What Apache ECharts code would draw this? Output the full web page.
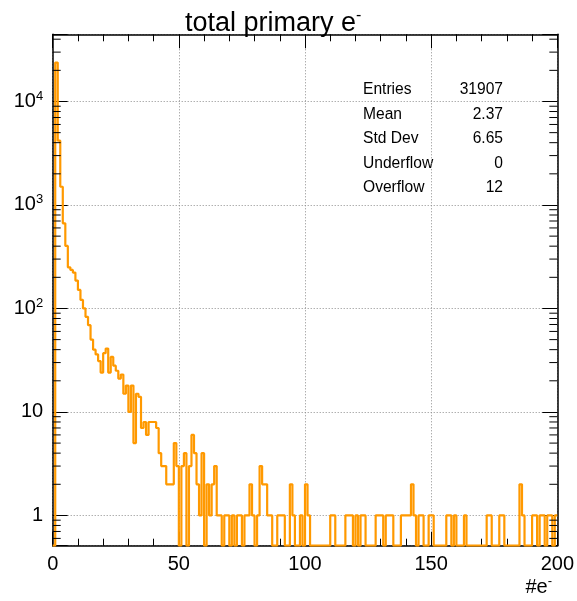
<!DOCTYPE html>
<html><head><meta charset="utf-8">
<script src="https://cdn.jsdelivr.net/npm/echarts@6/dist/echarts.min.js"></script>
<style>html,body{margin:0;padding:0;background:#fff}#c{width:577px;height:601px}</style>
</head><body><div id="c"></div>
<script>
// histogram: 200 bins of width 1 from 0 to 200
const binLow = 0, binWidth = 1;
const counts = [
  0,23800,4180,1500,665,402,250,236,222,186,151,121,100,83,69,50,40,36,31,24,
  37,41,24,34,28,25,21,23,15,18,10,18,5,15,14,7,8,6,8,8,
  8,7,4,3,3,2,2,2,5,3,0,3,4,0,3,6,4,2,1,4,
  0,2,1,2,3,1,1,0,1,1,0,1,0,1,1,0,1,1,2,1,
  0,1,3,2,2,1,1,0,0,1,1,1,0,0,2,1,0,0,1,0,
  2,1,0,0,0,0,0,0,0,0,1,1,0,0,0,0,1,1,1,0,
  1,0,1,1,0,0,0,0,1,1,1,0,1,1,1,0,0,0,1,1,
  1,1,2,1,0,1,1,0,0,1,1,0,0,0,0,0,1,1,0,1,
  0,0,0,1,0,0,0,0,0,0,0,0,1,1,0,0,0,1,1,0,
  0,0,0,0,0,2,1,0,0,0,1,1,0,1,1,0,1,1,0,1
];
const xTickValues = [0, 50, 100, 150, 200];
const yDecadeExponents = [0, 1, 2, 3, 4];
const yDecadeLabels = ['1', '10', '10|2', '10|3', '10|4'];
const statsNames = ['Entries', 'Mean', 'Std Dev', 'Underflow', 'Overflow'];
const statsValues = ['31907', '2.37', '6.65', '0', '12'];
const titleMain = 'total primary e', titleSup = '-';
const xTitleMain = '#e', xTitleSup = '-';
const yMin = 0.51, yMax = 44600;

const FONT = '"Liberation Sans", Arial, Helvetica, sans-serif';
const ORANGE = '#ff9900';

// step outline points (bin low edges + final edge); empty bins drop to frame bottom
const pts = counts.map((c, i) => [binLow + i * binWidth, c > 0 ? c : yMin]);
pts.push([binLow + counts.length * binWidth, counts[counts.length - 1] > 0 ? counts[counts.length - 1] : yMin]);

// log minor ticks (2..9 per decade) inside range
const minorY = [];
for (let e = -1; e <= 4; e++) for (let m = 2; m <= 9; m++) {
  const v = m * Math.pow(10, e);
  if (v > yMin && v < yMax) minorY.push(v);
}

function yLabel(v) {
  const lg = Math.log10(v), e = Math.round(lg);
  if (Math.abs(lg - e) > 1e-6) return '';
  const idx = yDecadeExponents.indexOf(e);
  if (idx < 0) return '';
  const parts = yDecadeLabels[idx].split('|');
  return parts.length > 1 ? '{b|' + parts[0] + '}{s|' + parts[1] + '}' : '{b|' + parts[0] + '}';
}

const chart = echarts.init(document.getElementById('c'), null, {renderer: 'canvas'});
const gridLine = {show: true, lineStyle: {color: '#8c8c8c', width: 1, type: [1, 2]}};
chart.setOption({
  animation: false,
  backgroundColor: '#fff',
  title: {
    text: '{m|' + titleMain + '}{s|' + titleSup + '}',
    left: 180, top: 3,
    textStyle: {fontWeight: 'normal', rich: {
      m: {fontFamily: FONT, fontSize: 27, fontWeight: 'normal', color: '#000', lineHeight: 31},
      s: {fontFamily: FONT, fontSize: 16, fontWeight: 'normal', color: '#000', verticalAlign: 'top', lineHeight: 16}
    }}
  },
  grid: {left: 52.7, right: 19.5, top: 34.3, bottom: 55.3, containLabel: false},
  xAxis: [{
    type: 'value', position: 'bottom', min: 0, max: 200, interval: 50,
    axisLine: {show: true, onZero: false, lineStyle: {color: '#000', width: 1.5}},
    axisTick: {show: true, inside: true, length: 14, lineStyle: {color: '#000'}},
    minorTick: {show: true, splitNumber: 5, length: 7, lineStyle: {color: '#000'}},
    axisLabel: {show: true, margin: 9, fontFamily: FONT, fontSize: 20, color: '#000',
      customValues: xTickValues},
    splitLine: gridLine
  }, {
    type: 'value', position: 'top', min: 0, max: 200, interval: 50,
    axisLine: {show: true, onZero: false, lineStyle: {color: '#000', width: 1.5}},
    axisTick: {show: true, inside: true, length: 14, lineStyle: {color: '#000'}},
    minorTick: {show: true, splitNumber: 5, length: 7, lineStyle: {color: '#000'}},
    axisLabel: {show: false}, splitLine: {show: false}
  }],
  yAxis: [{
    type: 'log', logBase: 10, min: yMin, max: yMax, position: 'left',
    axisLine: {show: true, onZero: false, lineStyle: {color: '#000', width: 1.5}},
    axisTick: {show: true, inside: true, length: 15, lineStyle: {color: '#000'}},
    axisLabel: {show: true, margin: 9.5, formatter: yLabel,
      rich: {
        b: {fontFamily: FONT, fontSize: 20, color: '#000', lineHeight: 24},
        s: {fontFamily: FONT, fontSize: 13, color: '#000', verticalAlign: 'top', lineHeight: 14}
      }},
    splitLine: gridLine
  }, {
    type: 'log', logBase: 10, min: yMin, max: yMax, position: 'right',
    axisLine: {show: true, onZero: false, lineStyle: {color: '#000', width: 1.5}},
    axisTick: {show: true, inside: true, length: 15, lineStyle: {color: '#000'}},
    axisLabel: {show: false}, splitLine: {show: false}
  }],
  graphic: [].concat(
    statsNames.map((n, i) => ({type: 'text', left: 363, top: 82 + i * 24.5,
      style: {text: n, font: '15.6px ' + FONT, fill: '#000'}})),
    statsValues.map((v, i) => ({type: 'text', right: 74, top: 82 + i * 24.5,
      style: {text: v, font: '15.6px ' + FONT, fill: '#000', textAlign: 'right'}})),
    [{type: 'text', right: 25, top: 575,
      style: {text: '{m|' + xTitleMain + '}{s|' + xTitleSup + '}',
        rich: {m: {fontFamily: FONT, fontSize: 20, fill: '#000', lineHeight: 24},
               s: {fontFamily: FONT, fontSize: 13, fill: '#000', verticalAlign: 'top', lineHeight: 12}}}}]
  ),
  series: [{
    type: 'line', xAxisIndex: 0, yAxisIndex: 0, data: pts, step: 'end',
    showSymbol: false, symbol: 'none', clip: true,
    lineStyle: {color: ORANGE, width: 2.2}, z: 3
  }, {
    type: 'custom', xAxisIndex: 0, yAxisIndex: 0, silent: true, z: 4,
    data: minorY.map(v => [0, v]),
    renderItem: function (params, api) {
      const v = api.value(1);
      const pl = api.coord([0, v]), pr = api.coord([200, v]);
      return {type: 'group', children: [
        {type: 'line', shape: {x1: pl[0], y1: pl[1], x2: pl[0] + 8, y2: pl[1]}, style: {stroke: '#000', lineWidth: 1}},
        {type: 'line', shape: {x1: pr[0], y1: pr[1], x2: pr[0] - 8, y2: pr[1]}, style: {stroke: '#000', lineWidth: 1}}
      ]};
    }
  }]
});
</script></body></html>
